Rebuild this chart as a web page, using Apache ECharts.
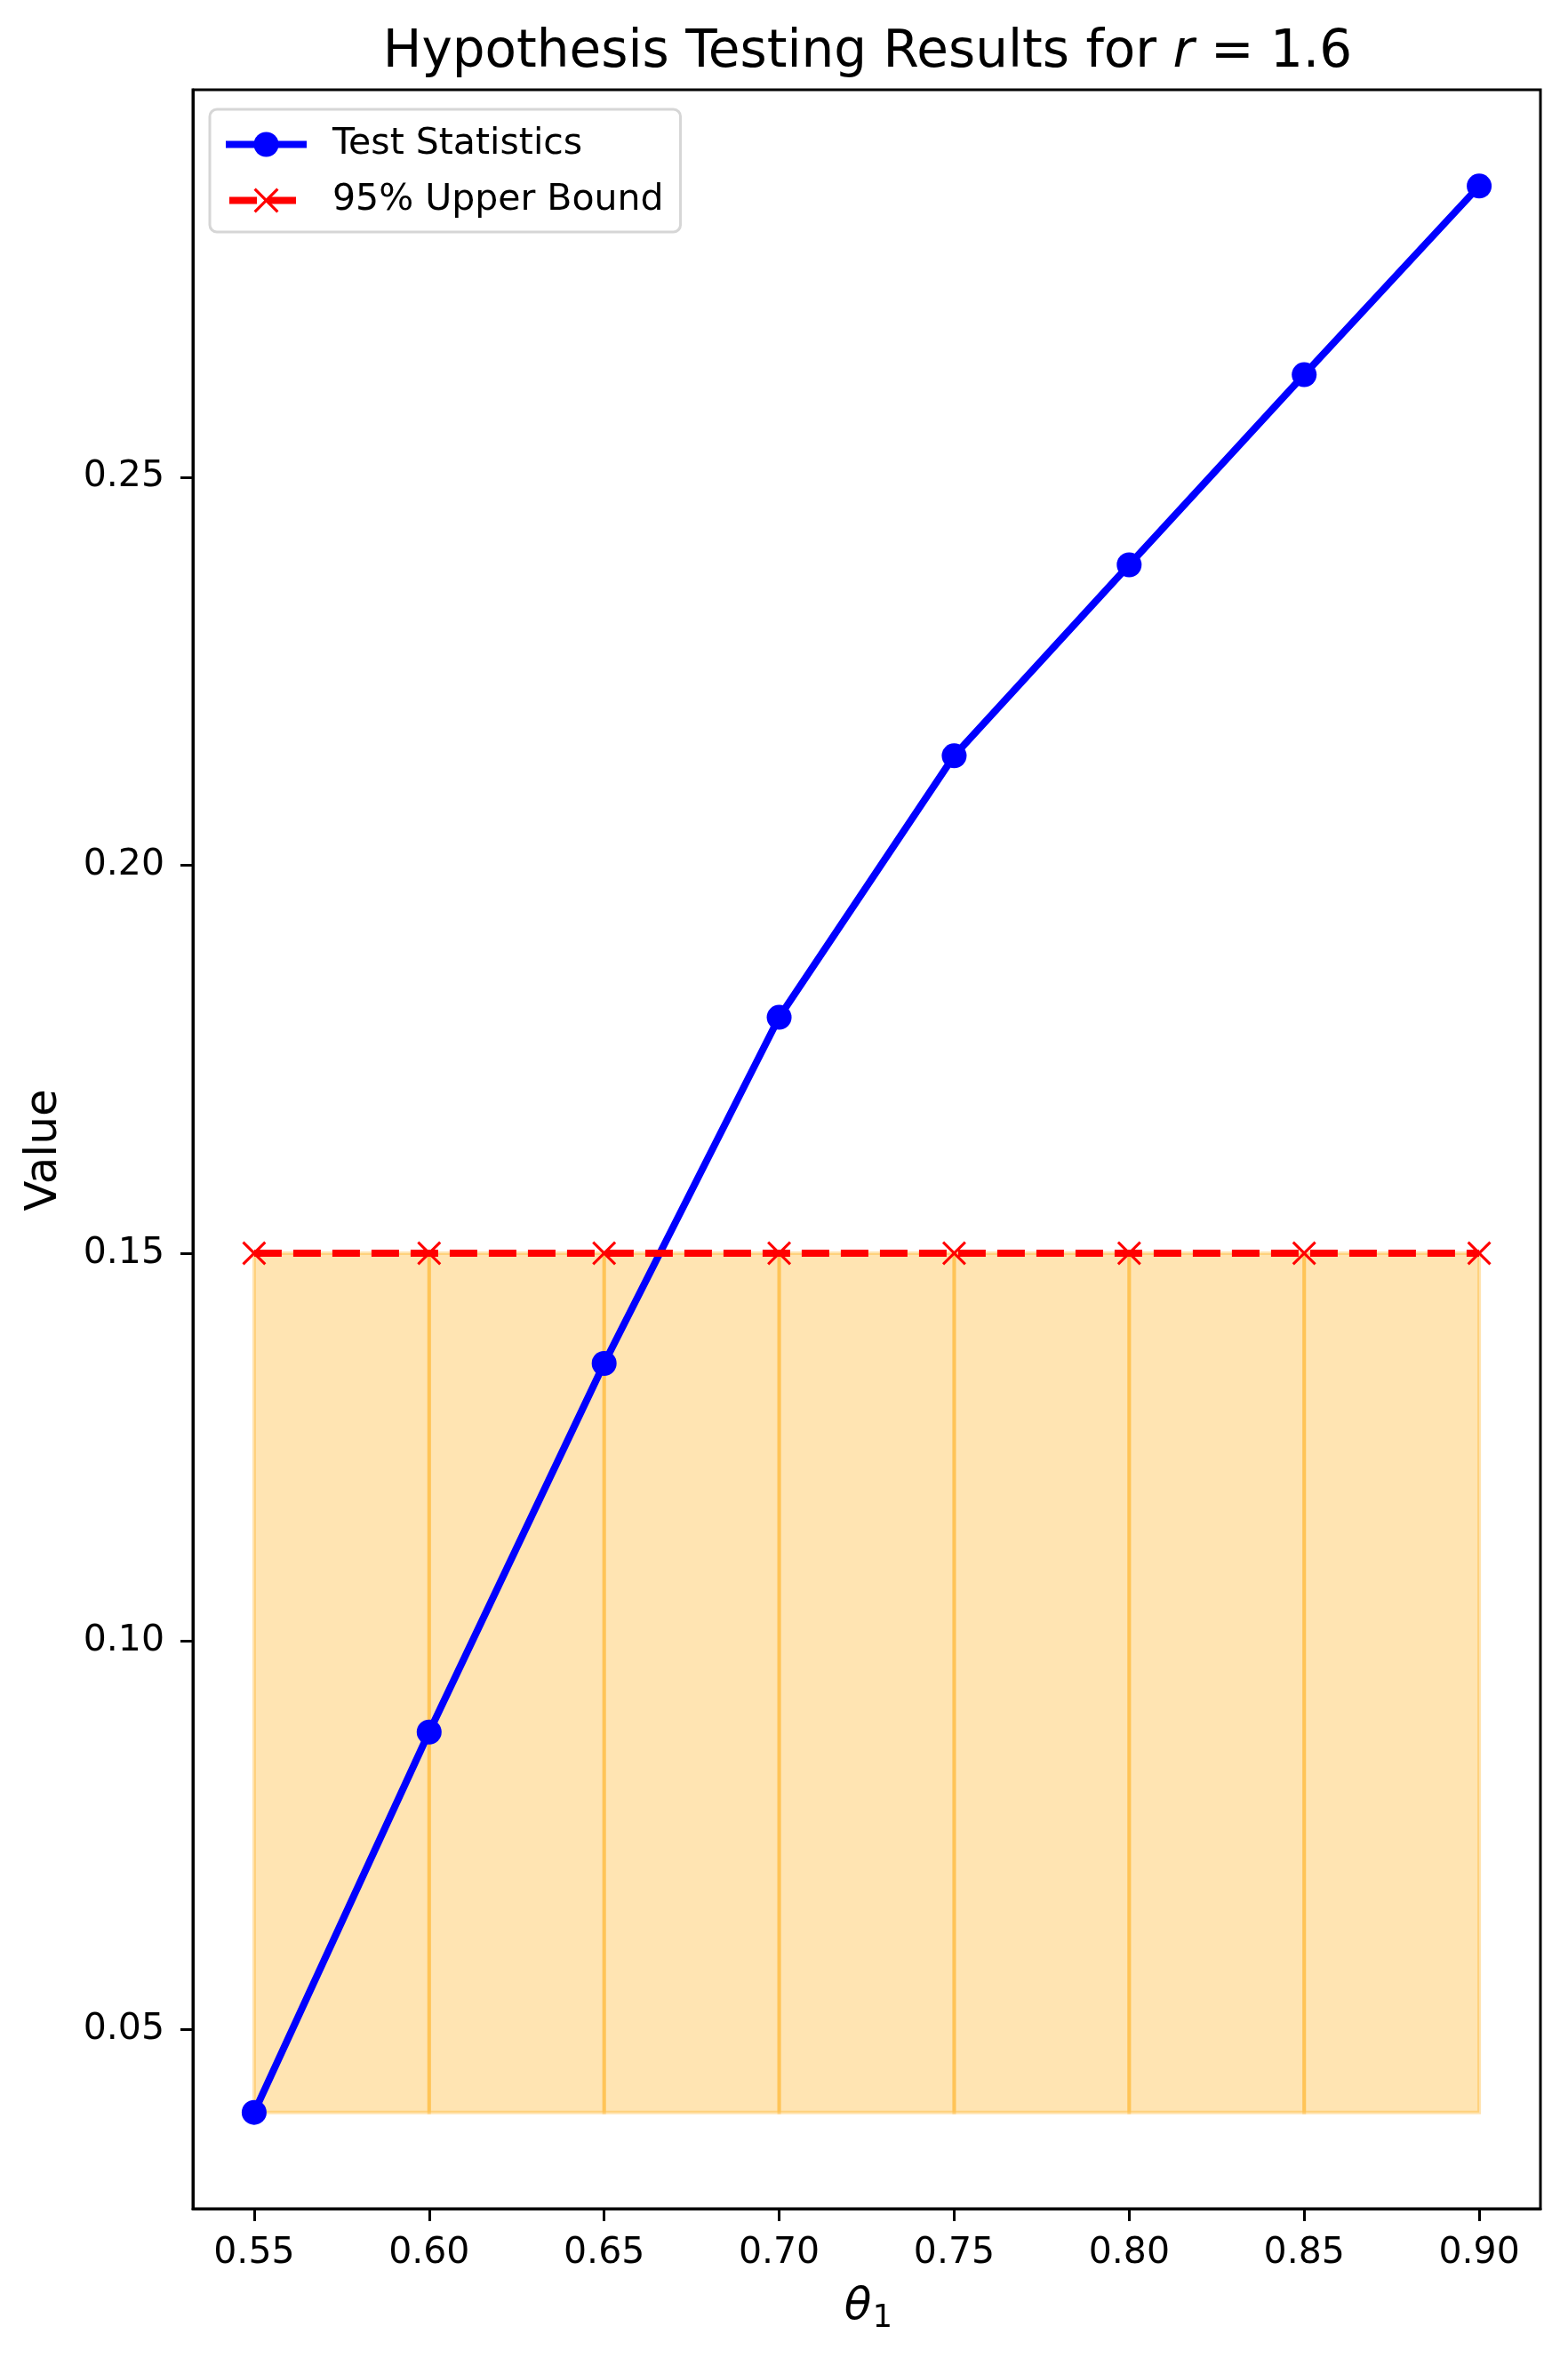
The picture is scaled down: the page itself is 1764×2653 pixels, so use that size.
<!DOCTYPE html>
<html><head><meta charset="utf-8">
<script src="https://cdn.jsdelivr.net/npm/echarts@6/dist/echarts.min.js"></script>
<style>html,body{margin:0;padding:0;background:#fff}#c{width:1764px;height:2653px}</style>
</head><body><div id="c"></div>
<script>
const theta = [0.55, 0.60, 0.65, 0.70, 0.75, 0.80, 0.85, 0.90];
const testStats = [0.0393, 0.0883, 0.1358, 0.1804, 0.2141, 0.2387, 0.2632, 0.2875];
const upperBound = [0.15, 0.15, 0.15, 0.15, 0.15, 0.15, 0.15, 0.15];
const xTicks = [0.55, 0.60, 0.65, 0.70, 0.75, 0.80, 0.85, 0.90];
const yTicks = [0.05, 0.10, 0.15, 0.20, 0.25];
const seriesNames = ['Test Statistics', '95% Upper Bound'];

const fillLow = Math.min.apply(null, testStats);
const fillSegments = theta.slice(0, -1).map((t, i) => [t, theta[i + 1], fillLow, upperBound[i], upperBound[i + 1]]);

const FONT = 'DejaVu Sans';
const xPath = 'path://M0,8 L8,0 L50,42 L92,0 L100,8 L58,50 L100,92 L92,100 L50,58 L8,100 L0,92 L42,50 Z';

const chart = echarts.init(document.getElementById('c'), null, {renderer: 'canvas'});
chart.setOption({
  animation: false,
  backgroundColor: '#fff',
  grid: {left: 217, top: 101, width: 1516, height: 2384, show: true, borderColor: '#000', borderWidth: 3, backgroundColor: '#fff'},
  xAxis: {
    type: 'value', min: 0.5325, max: 0.9175,
    splitLine: {show: false},
    axisLine: {show: true, lineStyle: {color: '#000', width: 3}},
    axisTick: {show: true, length: 14, lineStyle: {color: '#000', width: 3}, customValues: xTicks},
    axisLabel: {show: true, customValues: xTicks, formatter: v => v.toFixed(2), fontSize: 41, fontFamily: FONT, color: '#000', margin: 30}
  },
  yAxis: {
    type: 'value', min: 0.02689, max: 0.29991,
    splitLine: {show: false},
    axisLine: {show: true, lineStyle: {color: '#000', width: 3}},
    axisTick: {show: true, length: 14, lineStyle: {color: '#000', width: 3}, customValues: yTicks},
    axisLabel: {show: true, customValues: yTicks, formatter: v => v.toFixed(2), fontSize: 41, fontFamily: FONT, color: '#000', margin: 32, padding: [3, 0, 0, 0]}
  },
  legend: {
    data: [
      {name: seriesNames[0], lineStyle: {width: 8, color: '#0000ff'}},
      {name: seriesNames[1], lineStyle: {width: 8, color: '#ff0000', type: [31, 13, 31, 100], dashOffset: -4}}
    ],
    orient: 'vertical', left: 236, top: 123,
    padding: [19, 19, 15, 14],
    itemWidth: 91, itemHeight: 35, itemGap: 22,
    backgroundColor: 'rgba(255,255,255,0.8)', borderColor: '#d6d6d6', borderWidth: 3, borderRadius: 8,
    lineStyle: {width: 8},
    textStyle: {fontSize: 41, fontFamily: FONT, color: '#000', padding: [0, 0, 0, 24], lineHeight: 41}
  },
  graphic: [
    {type: 'text', x: 976, y: 60, z: 10, style: {
      text: '{a|Hypothesis Testing Results for }{i|r}{a| = 1.6}',
      rich: {a: {fontSize: 58, fontFamily: FONT, fill: '#000'}, i: {fontSize: 58, fontFamily: FONT, fontStyle: 'italic', fill: '#000'}},
      align: 'center', verticalAlign: 'middle'}},
    {type: 'text', x: 965, y: 2596, z: 10, style: {text: 'θ', fontSize: 50, fontFamily: FONT, fontStyle: 'italic', fill: '#000', align: 'center', verticalAlign: 'middle'}},
    {type: 'text', x: 993, y: 2609, z: 10, style: {text: '1', fontSize: 35, fontFamily: FONT, fill: '#000', align: 'center', verticalAlign: 'middle'}},
    {type: 'text', x: 50, y: 1294, rotation: Math.PI / 2, z: 10, style: {text: 'Value', fontSize: 50, fontFamily: FONT, fill: '#000', align: 'center', verticalAlign: 'middle'}}
  ],
  series: [
    {
      type: 'custom', name: 'fill', z: 1, silent: true,
      data: fillSegments,
      encode: {x: [0, 1], y: [2, 3, 4]},
      renderItem: function (params, api) {
        const p1 = api.coord([api.value(0), api.value(2)]);
        const p2 = api.coord([api.value(1), api.value(2)]);
        const p3 = api.coord([api.value(1), api.value(4)]);
        const p4 = api.coord([api.value(0), api.value(3)]);
        return {type: 'polygon', shape: {points: [p1, p2, p3, p4]},
          style: {fill: 'rgba(255,165,0,0.3)', stroke: 'rgba(255,165,0,0.3)', lineWidth: 4}};
      }
    },
    {
      type: 'line', name: seriesNames[0], z: 3,
      data: theta.map((t, i) => [t, testStats[i]]),
      symbol: 'circle', symbolSize: 28, showSymbol: true,
      lineStyle: {color: '#0000ff', width: 8},
      itemStyle: {color: '#0000ff'}
    },
    {
      type: 'line', name: seriesNames[1], z: 4,
      data: theta.map((t, i) => [t, upperBound[i]]),
      symbol: xPath, symbolSize: 27, showSymbol: true,
      lineStyle: {color: '#ff0000', width: 8, type: [31, 13]},
      itemStyle: {color: '#ff0000', borderWidth: 0}
    }
  ]
});
</script></body></html>
